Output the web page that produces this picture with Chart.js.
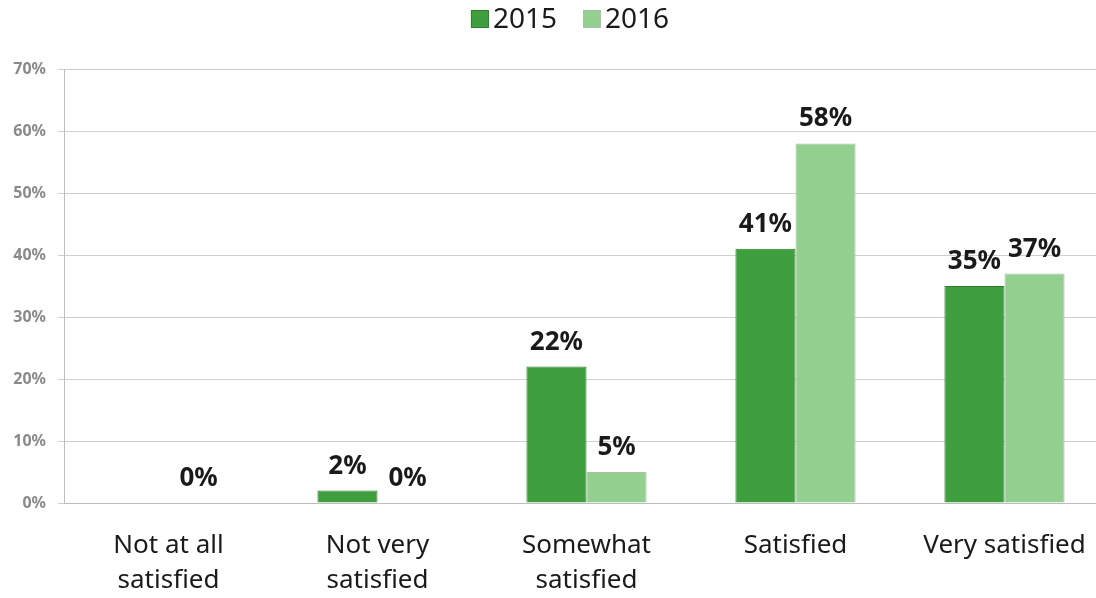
<!DOCTYPE html>
<html>
<head>
<meta charset="utf-8">
<script src="https://cdn.jsdelivr.net/npm/chart.js@4"></script>
<style>
  html, body { margin: 0; padding: 0; background: #fff; overflow: hidden; }
</style>
</head>
<body>
<canvas id="canv" width="1110" height="598"></canvas>
<script>
// data
const categories = [["Not at all", "satisfied"], ["Not very", "satisfied"], ["Somewhat", "satisfied"], "Satisfied", "Very satisfied"]
const seriesNames = ["2015", "2016"]
const values2015 = [null, 2, 22, 41, 35]
const values2016 = [0, 0, 5, 58, 37]
const yTicks = [0, 10, 20, 30, 40, 50, 60, 70]

const FONT = "'Noto Sans', 'DejaVu Sans', sans-serif"

// bold % labels above each bar
const barLabels = {
  id: "barLabels",
  afterDatasetsDraw(chart) {
    const ctx = chart.ctx
    ctx.save()
    ctx.font = "bold 26px " + FONT
    ctx.fillStyle = "#1a1a1a"
    ctx.textAlign = "center"
    ctx.textBaseline = "alphabetic"
    chart.data.datasets.forEach((ds, i) => {
      chart.getDatasetMeta(i).data.forEach((bar, j) => {
        if (ds.data[j] == null) return
        ctx.fillText(ds.data[j] + "%", bar.x, bar.y - 17)
      })
    })
    ctx.restore()
  }
}

// legend drawn by hand so spacing matches
const topLegend = {
  id: "topLegend",
  afterDraw(chart) {
    const ctx = chart.ctx
    ctx.save()
    ctx.font = "28px " + FONT
    const box = 18, gap = 4, itemGap = 26
    const items = chart.data.datasets.map(ds => ({ds, w: ctx.measureText(ds.label).width}))
    let total = items.reduce((s, it) => s + box + gap + it.w, 0) + itemGap * (items.length - 1)
    let x = 570 - total / 2
    ctx.textBaseline = "alphabetic"
    items.forEach(it => {
      ctx.fillStyle = it.ds.backgroundColor
      ctx.fillRect(x, 10, box, box)
      ctx.strokeStyle = it.ds.borderColor
      ctx.lineWidth = 1
      ctx.strokeRect(x + 0.5, 10.5, box - 1, box - 1)
      x += box + gap
      ctx.fillStyle = "#1a1a1a"
      ctx.fillText(it.ds.label, x, 28)
      x += it.w + itemGap
    })
    ctx.restore()
  }
}

new Chart(document.getElementById("canv"), {
  type: "bar",
  data: {
    labels: categories,
    datasets: [{
      label: seriesNames[0],
      data: values2015,
      backgroundColor: "#3f9f3f",
      borderColor: "#2f7f2f",
      borderWidth: 1
    }, {
      label: seriesNames[1],
      data: values2016,
      backgroundColor: "#93cf8f",
      borderColor: "#a8c0a6",
      borderWidth: 1
    }]
  },
  options: {
    responsive: false,
    animation: false,
    layout: { padding: { top: 69, left: 0, right: 1, bottom: 0 } },
    datasets: {
      bar: { categoryPercentage: 0.575, barPercentage: 1 }
    },
    plugins: {
      legend: { display: false },
      tooltip: { enabled: false }
    },
    scales: {
      x: {
        afterFit(scale) { scale.height = 95 },
        grid: { display: false },
        border: { display: true, color: "#bdbdbd", width: 1 },
        ticks: {
          color: "#1a1a1a",
          font: { family: FONT, size: 26, lineHeight: 1.35 },
          padding: 17,
          maxRotation: 0,
          autoSkip: false
        }
      },
      y: {
        min: yTicks[0],
        max: yTicks[yTicks.length - 1],
        afterFit(scale) { scale.width = 64 },
        afterBuildTicks(scale) { scale.ticks = yTicks.map(v => ({value: v})) },
        grid: { color: "#cfcfcf", tickLength: 6, lineWidth: 1 },
        border: { color: "#bdbdbd" },
        ticks: {
          color: "#8a8a8a",
          font: { family: FONT, size: 16, weight: "bold" },
          padding: 12,
          callback: v => v + "%"
        }
      }
    }
  },
  plugins: [barLabels, topLegend]
})
</script>
</body>
</html>
